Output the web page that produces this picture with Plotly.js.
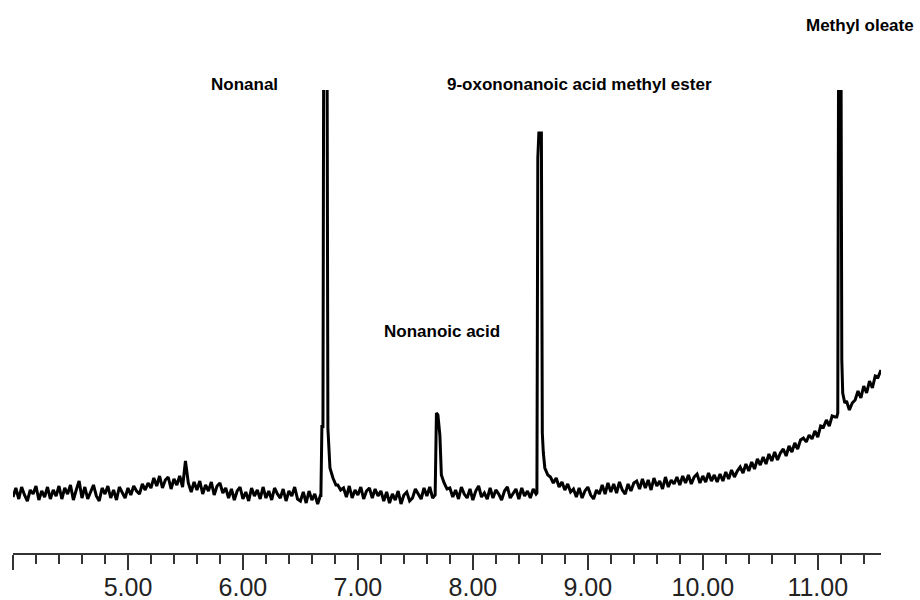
<!DOCTYPE html>
<html>
<head>
<meta charset="utf-8">
<script src="https://cdn.plot.ly/plotly-3.0.1.min.js"></script>
<style>html,body{margin:0;padding:0;background:#fff;}#chart{width:920px;height:600px;}</style>
</head>
<body>
<div id="chart"></div>
<script>
// Regular detector scans (retention time in minutes), abundance in arbitrary units
const scanStart = 4.0;
const scanStep = 0.025;
const baseline = [
  56,65,54,66,58,52,63,59,67,53,62,56,66,54,63,
  57,67,54,65,59,68,53,63,72,55,66,54,62,68,57,52,65,59,67,55,63,53,66,60,55,65,
  58,67,62,59,69,63,70,
  65,75,67,77,65,73,76,64,74,68,77,66,
  92,
  70,61,71,63,72,59,68,62,71,58,67,70,60,65,
  55,64,53,62,66,54,61,52,65,57,63,54,66,55,62,53,65,59,55,64,52,62,57,66,54,
  52,61,50,62,53,59,49,58,
  60,60,60,60,60,
  68,63,
  65,56,67,55,63,58,66,54,62,65,55,64,57,62,
  52,61,50,59,53,62,49,58,61,52,
  55,64,59,54,65,57,66,55,62,
  60,60,
  70,64,
  65,56,63,54,66,59,55,64,53,62,67,56,60,54,65,55,63,59,53,62,66,55,60,64,54,65,57,62,55,64,59,
  60,60,60,60,
  76,70,75,66,71,63,69,61,
  64,56,65,55,62,66,58,54,63,59,
  68,59,70,61,69,60,71,63,59,69,62,70,
  72,64,74,65,73,63,75,67,72,64,76,66,73,69,
  76,68,77,70,78,69,76,79,70,77,71,80,72,78,71,
  79,72,81,74,83,76,82,86,
  80,89,82,91,84,94,88,
  96,89,99,92,101,93,100,
  104,97,107,101,110,104,113,
  115,111,118,114,122,116,127,
  126,133,127,137,136,
  140,140,140,
  152,143,150,153,162,155,167,160,172,165,177,176,183
];

// Peaks (retention time, abundance); the tallest ones run off the top of the frame
const nonanalTimes = [6.678, 6.687, 6.696, 6.704, 6.730, 6.739, 6.757, 6.783, 6.809];
const nonanalValues = [56, 128, 125, 600, 600, 125, 85, 75, 68];
const nonanoicTimes = [7.672, 7.683, 7.696, 7.704, 7.713, 7.726, 7.748];
const nonanoicValues = [58, 140, 138, 125, 118, 78, 70];
const oxoTimes = [8.557, 8.565, 8.574, 8.596, 8.604, 8.613, 8.626, 8.652];
const oxoValues = [60, 395, 420, 420, 120, 100, 85, 78];
const oleateTimes = [11.165, 11.174, 11.183, 11.200, 11.209, 11.217, 11.235];
const oleateValues = [136, 140, 600, 600, 193, 160, 150];

const tickVals = [4, 5, 6, 7, 8, 9, 10, 11];
const tickText = ['', '5.00', '6.00', '7.00', '8.00', '9.00', '10.00', '11.00'];

const peakLabels = ['Nonanal', 'Nonanoic acid', '9-oxononanoic acid methyl ester', 'Methyl oleate'];
const labelTimes = [6.017, 7.73, 8.93, 11.365];
const labelHeights = [1.011, 0.479, 1.011, 1.14];

// merge scans and peaks
const groups = [[nonanalTimes, nonanalValues], [nonanoicTimes, nonanoicValues], [oxoTimes, oxoValues], [oleateTimes, oleateValues]];
let pts = [];
baseline.forEach((v, i) => {
  const t = +(scanStart + i * scanStep).toFixed(4);
  const inside = groups.some(g => t > g[0][0] && t < g[0][g[0].length - 1]);
  if (!inside) pts.push([t, v]);
});
groups.forEach(g => g[0].forEach((t, k) => pts.push([t, g[1][k]])));
pts.sort((a, b) => a[0] - b[0]);

const sans = 'Liberation Sans, Arial, sans-serif';

const trace = {
  x: pts.map(p => p[0]),
  y: pts.map(p => p[1]),
  type: 'scatter',
  mode: 'lines',
  line: {color: '#000', width: 3},
  hoverinfo: 'skip'
};

const layout = {
  width: 920, height: 600,
  margin: {l: 13, r: 39, t: 90, b: 47},
  paper_bgcolor: '#fff', plot_bgcolor: '#fff',
  showlegend: false,
  xaxis: {
    range: [4, 11.55],
    showgrid: false, zeroline: false,
    showline: true, linecolor: '#333', linewidth: 2,
    tickmode: 'array', tickvals: tickVals, ticktext: tickText,
    ticks: 'outside', ticklen: 15, tickwidth: 2, tickcolor: '#333',
    ticklabelstandoff: -4,
    tickfont: {family: sans, size: 25, color: '#222'},
    minor: {tickmode: 'linear', tick0: 4, dtick: 0.2, ticks: 'outside', ticklen: 9, tickwidth: 2, tickcolor: '#333', showgrid: false}
  },
  yaxis: {range: [0, 463], visible: false, showgrid: false, zeroline: false},
  annotations: peakLabels.map((txt, k) => ({
    text: txt, x: labelTimes[k], xref: 'x', y: labelHeights[k], yref: 'paper',
    showarrow: false, xanchor: 'center', yanchor: 'middle',
    font: {family: sans, size: 17, color: '#000', weight: 'bold'}
  }))
};

Plotly.newPlot('chart', [trace], layout, {displayModeBar: false, staticPlot: true});
</script>
</body>
</html>
